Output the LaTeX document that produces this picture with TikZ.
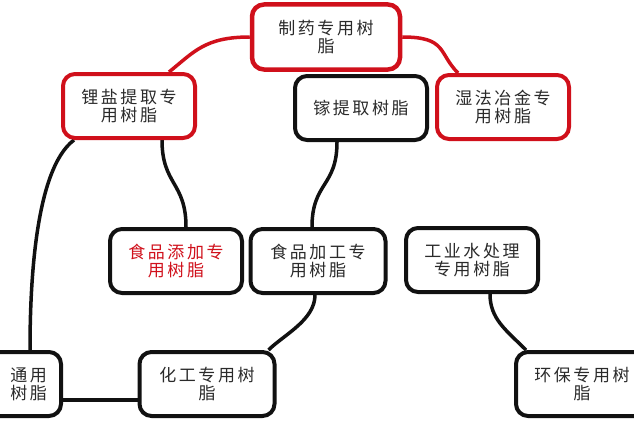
\documentclass[tikz,border=0pt]{standalone}
\usepackage{fontspec}
\usetikzlibrary{positioning,backgrounds}
\newfontfamily\cjk[LetterSpace=15]{Noto Sans CJK SC}
\definecolor{cR}{HTML}{D0101B}
\definecolor{cK}{HTML}{111111}
\definecolor{cT}{HTML}{2A2A2A}
\tikzset{
  topic/.style={rounded corners=12pt,draw=cR,line width=4.5pt,fill=white,
                minimum width=148pt,minimum height=65pt,align=center,text=cT,
                font={\cjk\fontsize{17}{18}\selectfont}},
  sub/.style={topic,draw=cK,line width=4pt,minimum width=132pt,minimum height=64pt},
  redlink/.style={draw=cR,line width=3.5pt},
  link/.style={draw=cK,line width=3.5pt},
}

\begin{document}
\begin{tikzpicture}[x=1pt,y=-1pt]
  \useasboundingbox (0,0) rectangle (634,428);
  \clip (0,0) rectangle (634,428);
  % top
  \node[topic] (pharm) at (326,37) {制药专用树\\脂};
  \node[sub,draw=cR] (lith) at (129,106) {锂盐提取专\\用树脂};
  \node[sub] (gall) at (361,108) {镓提取树脂};
  \node[sub,draw=cR] (hydro) at (503,107) {湿法冶金专\\用树脂};
  % middle
  \node[sub,text=cR] (foodL) at (176,261) {食品添加专\\用树脂};
  \node[sub,minimum width=135pt] (food) at (318,261) {食品加工专\\用树脂};
  \node[sub] (water) at (472,260) {工业水处理\\专用树脂};
  % bottom
  \node[sub,text width=104pt,align=right] (bl) at (-5,384) {通用\\树脂};
  \node[sub,minimum width=135pt] (chem) at (207,384) {化工专用树\\脂};
  \node[sub] (env) at (582,384) {环保专用树\\脂};
  \begin{scope}[on background layer]
    \draw[redlink] (pharm.west) .. controls +(-45,0) and +(25,-20) .. ([xshift=40pt]lith.north);
    \draw[redlink] (pharm.east) .. controls +(45,0) and +(-20,-20) .. ([xshift=-45pt]hydro.north);
    \draw[link] ([xshift=33pt]lith.south) .. controls +(0,45) and +(0,-45) .. ([xshift=10pt]foodL.north);
    \draw[link] ([xshift=-24pt]gall.south) .. controls +(0,45) and +(0,-45) .. ([xshift=-6pt]food.north);
    \draw[link] ([xshift=-55pt]lith.south) .. controls +(-40,30) and +(0,-60) .. ([xshift=35pt]bl.north);
    \draw[link] ([xshift=-3pt]food.south) .. controls +(0,25) and +(15,-15) .. ([xshift=-8pt]chem.north east);
    \draw[link] ([xshift=18pt]water.south) .. controls +(0,25) and +(-20,-20) .. ([xshift=12pt]env.north west);
    \draw[link] ([yshift=-16pt]bl.east) -- ([yshift=-16pt]chem.west);
  \end{scope}
\end{tikzpicture}
\end{document}
